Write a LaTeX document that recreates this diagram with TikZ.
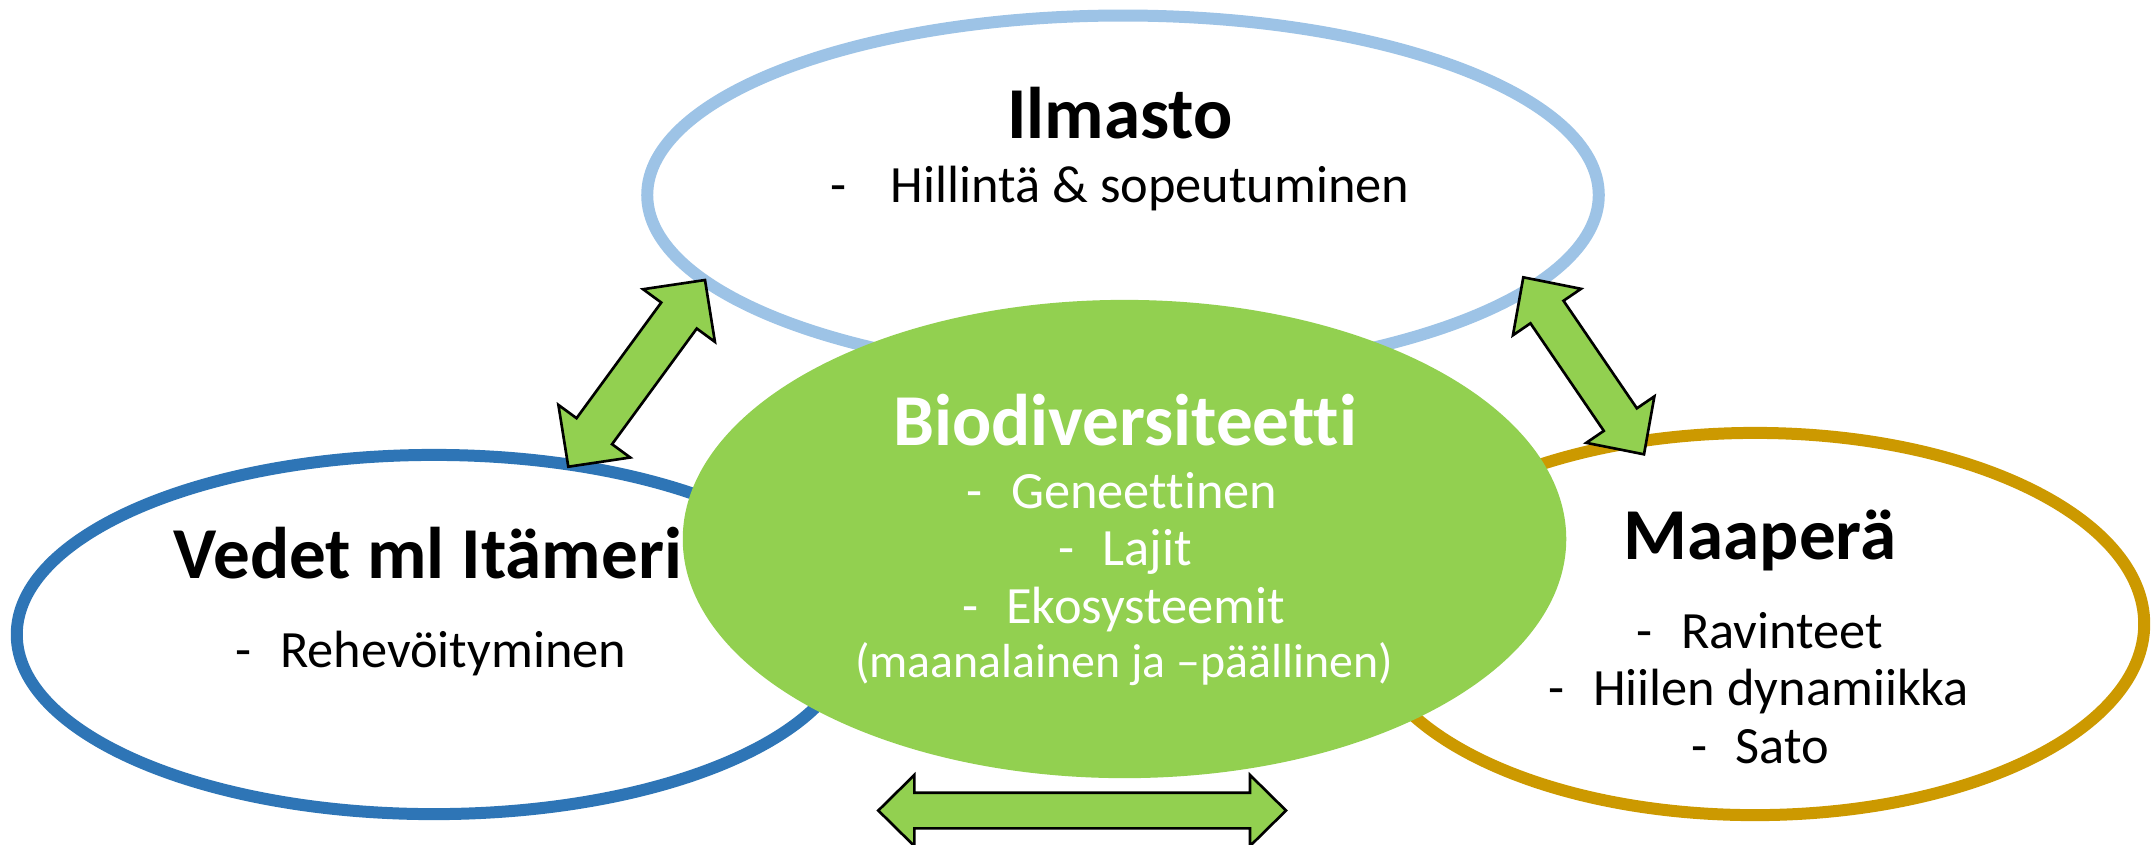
\documentclass[tikz,border=0pt]{standalone}
\usepackage{fontspec}
\setmainfont{Carlito}[Ligatures={NoCommon}]
\usetikzlibrary{shapes.geometric,calc}
\definecolor{ilmblue}{HTML}{9DC3E6}
\definecolor{vedblue}{HTML}{2E75B6}
\definecolor{maagold}{HTML}{CC9900}
\definecolor{biogreen}{HTML}{92D050}
\tikzset{
  ring/.style={ellipse, draw, fill=white, line width=3.41pt, inner sep=0pt, outer sep=0pt},
  bioell/.style={ellipse, fill=biogreen, draw=none, inner sep=0pt, outer sep=0pt},
  titletext/.style={anchor=base, inner sep=0pt, font=\fontsize{20.8pt}{24pt}\selectfont\bfseries},
  subtext/.style={anchor=base, inner sep=0pt, font=\fontsize{14.9pt}{18pt}\selectfont},
  smalltext/.style={anchor=base, inner sep=0pt, font=\fontsize{13.6pt}{16pt}\selectfont},
  blockarrow/.style={fill=biogreen, draw=black, line width=0.75pt, line join=miter},
}
\newcommand{\blockdbl}[5]{%
  \coordinate (dbha) at ($(#1)!#3!(#2)$);
  \coordinate (dbhb) at ($(#2)!#3!(#1)$);
  \draw[blockarrow] (#1) -- ($(dbha)!#4!90:(#2)$) -- ($(dbha)!#5!90:(#2)$)
    -- ($(dbhb)!#5!-90:(#1)$) -- ($(dbhb)!#4!-90:(#1)$) -- (#2)
    -- ($(dbhb)!#4!90:(#1)$) -- ($(dbhb)!#5!90:(#1)$)
    -- ($(dbha)!#5!-90:(#2)$) -- ($(dbha)!#4!-90:(#2)$) -- cycle;}
\begin{document}
\begin{tikzpicture}[x=0.01cm, y=-0.01cm]
\useasboundingbox (0,0) rectangle (2154,844);

% outer rings
\node[ring, draw=ilmblue, minimum width=9.51cm, minimum height=3.588cm] (ilm) at (1123,195) {};
\node[ring, draw=vedblue, minimum width=8.34cm, minimum height=3.59cm] (ved) at (434,634.5) {};
\node[ring, draw=maagold, minimum width=7.78cm, minimum height=3.82cm] (maa) at (1755,624) {};

% texts of outer rings
\node[titletext] (ilmT) at (1120,138) {Ilmasto};
\node[subtext] (ilmS) at (1120,202) {-\hspace{0.85em}Hillintä \& sopeutuminen};

\node[titletext] (vedT) at (428,578) {Vedet ml Itämeri};
\node[subtext] (vedS) at (431,667) {-\hspace{0.54em}Rehevöityminen};

\node[titletext] (maaT) at (1760,559) {Maaperä};
\node[subtext] (maaS1) at (1760,648) {-\hspace{0.54em}Ravinteet};
\node[subtext] (maaS2) at (1759,705) {-\hspace{0.54em}Hiilen dynamiikka};
\node[subtext] (maaS3) at (1760,763) {-\hspace{0.54em}Sato};

% arrows
\coordinate (la1) at (568.3,466.7);
\coordinate (la2) at (705,280);
\blockdbl{la1}{la2}{0.44cm}{0.445cm}{0.22cm}
\coordinate (ra1) at (1523.3,277.3);
\coordinate (ra2) at (1644,454.3);
\blockdbl{ra1}{ra2}{0.42cm}{0.412cm}{0.20cm}
\coordinate (ba1) at (878.3,810.5);
\coordinate (ba2) at (1286,810.5);
\blockdbl{ba1}{ba2}{0.36cm}{0.355cm}{0.178cm}

% central ellipse
\node[bioell, minimum width=8.83cm, minimum height=4.78cm] (bio) at (1124.5,539) {};
\node[titletext, text=white] (bioT) at (1125,445) {Biodiversiteetti};
\node[subtext, text=white] (bioS1) at (1122,508) {-\hspace{0.54em}Geneettinen};
\node[subtext, text=white] (bioS2) at (1125,565) {-\hspace{0.54em}Lajit};
\node[subtext, text=white] (bioS3) at (1123.5,623) {-\hspace{0.54em}Ekosysteemit};
\node[smalltext, text=white] (bioS4) at (1124,677) {(maanalainen ja –päällinen)};
\end{tikzpicture}
\end{document}
